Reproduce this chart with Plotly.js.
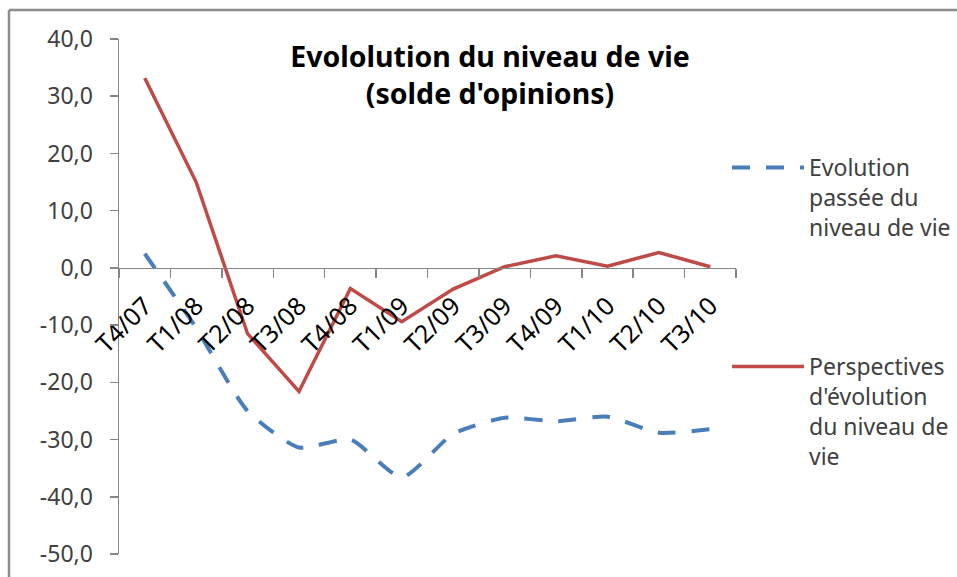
<!DOCTYPE html>
<html>
<head>
<meta charset="utf-8">
<script src="https://cdn.plot.ly/plotly-3.0.1.min.js"></script>
<style>html,body{margin:0;padding:0;background:#fff;}#chart{width:957px;height:577px;}</style>
</head>
<body>
<div id="chart"></div>
<script>
const categories = ["T4/07","T1/08","T2/08","T3/08","T4/08","T1/09","T2/09","T3/09","T4/09","T1/10","T2/10","T3/10"];
const evolutionPassee = [2.5, -10.5, -25.0, -31.4, -30.0, -36.6, -29.0, -26.2, -26.8, -26.0, -28.8, -28.2];
const perspectives = [33.2, 15.0, -11.5, -21.6, -3.6, -9.4, -3.7, 0.2, 2.1, 0.3, 2.7, 0.2];
const yTickVals = [40, 30, 20, 10, 0, -10, -20, -30, -40, -50];
const yTickText = ["40,0","30,0","20,0","10,0","0,0","-10,0","-20,0","-30,0","-40,0","-50,0"];
const seriesNames = ["Evolution<br>passée du<br>niveau de vie", "Perspectives<br>d'évolution<br>du niveau de<br>vie"];

const W = 957, H = 577;
const L = 119, R = 736, T = 39, B = 554;
const pw = R - L, ph = B - T;
const px2x = p => (p - L) / pw;
const py2y = p => (B - p) / ph;
const FONT = "Noto Sans";

const traces = [
  {
    x: categories, y: evolutionPassee, name: seriesNames[0], type: "scatter", mode: "lines",
    line: {color: "#4a7ebb", width: 4, dash: "18px,16px", shape: "spline", smoothing: 0.6},
    legend: "legend"
  },
  {
    x: categories, y: perspectives, name: seriesNames[1], type: "scatter", mode: "lines",
    line: {color: "#be4b48", width: 3.5},
    legend: "legend2"
  }
];

const legendCommon = {
  xref: "container", yref: "container", xanchor: "left", yanchor: "top",
  valign: "top", itemwidth: 72,
  font: {family: FONT, size: 23, color: "#404040"},
  bgcolor: "rgba(0,0,0,0)"
};

const layout = {
  width: W, height: H,
  margin: {l: L, r: W - R, t: T, b: H - B, autoexpand: false},
  paper_bgcolor: "#ffffff", plot_bgcolor: "#ffffff",
  font: {family: FONT, color: "#404040", size: 23},
  title: {
    text: "<b>Evololution du niveau de vie</b><br><b>(solde d'opinions)</b>",
    font: {family: FONT, size: 28.5, color: "#000000"},
    xref: "paper", x: px2x(490), xanchor: "center",
    yref: "container", y: 1 - 67 / H, yanchor: "top"
  },
  xaxis: {
    type: "category", range: [-0.5, 11.5],
    anchor: "free", position: 50 / 90,
    showline: true, linecolor: "#868686", linewidth: 1.5,
    ticks: "outside", tickson: "boundaries", ticklen: 9, tickcolor: "#868686", tickwidth: 1.5,
    ticklabelstandoff: 12,
    tickangle: -45, tickfont: {family: FONT, size: 25, color: "#000000"},
    showgrid: false, zeroline: false, fixedrange: true
  },
  yaxis: {
    range: [-50, 40],
    tickvals: yTickVals, ticktext: yTickText,
    showline: true, linecolor: "#868686", linewidth: 1.5,
    ticks: "outside", ticklen: 8, tickcolor: "#868686", tickwidth: 1.5,
    ticklabelstandoff: 12,
    tickfont: {family: FONT, size: 23, color: "#404040"},
    showgrid: false, zeroline: false, fixedrange: true
  },
  showlegend: true,
  legend: Object.assign({}, legendCommon, {x: 727 / W, y: 1 - 146 / H}),
  legend2: Object.assign({}, legendCommon, {x: 727 / W, y: 1 - 345 / H}),
  shapes: [
    {type: "line", xref: "paper", yref: "paper", x0: px2x(9), x1: px2x(960), y0: py2y(10), y1: py2y(10), line: {color: "#8c8c8c", width: 2.5}},
    {type: "line", xref: "paper", yref: "paper", x0: px2x(9), x1: px2x(9), y0: py2y(10), y1: py2y(580), line: {color: "#8c8c8c", width: 2.5}}
  ]
};

Plotly.newPlot("chart", traces, layout, {displayModeBar: false, staticPlot: true});
</script>
</body>
</html>
